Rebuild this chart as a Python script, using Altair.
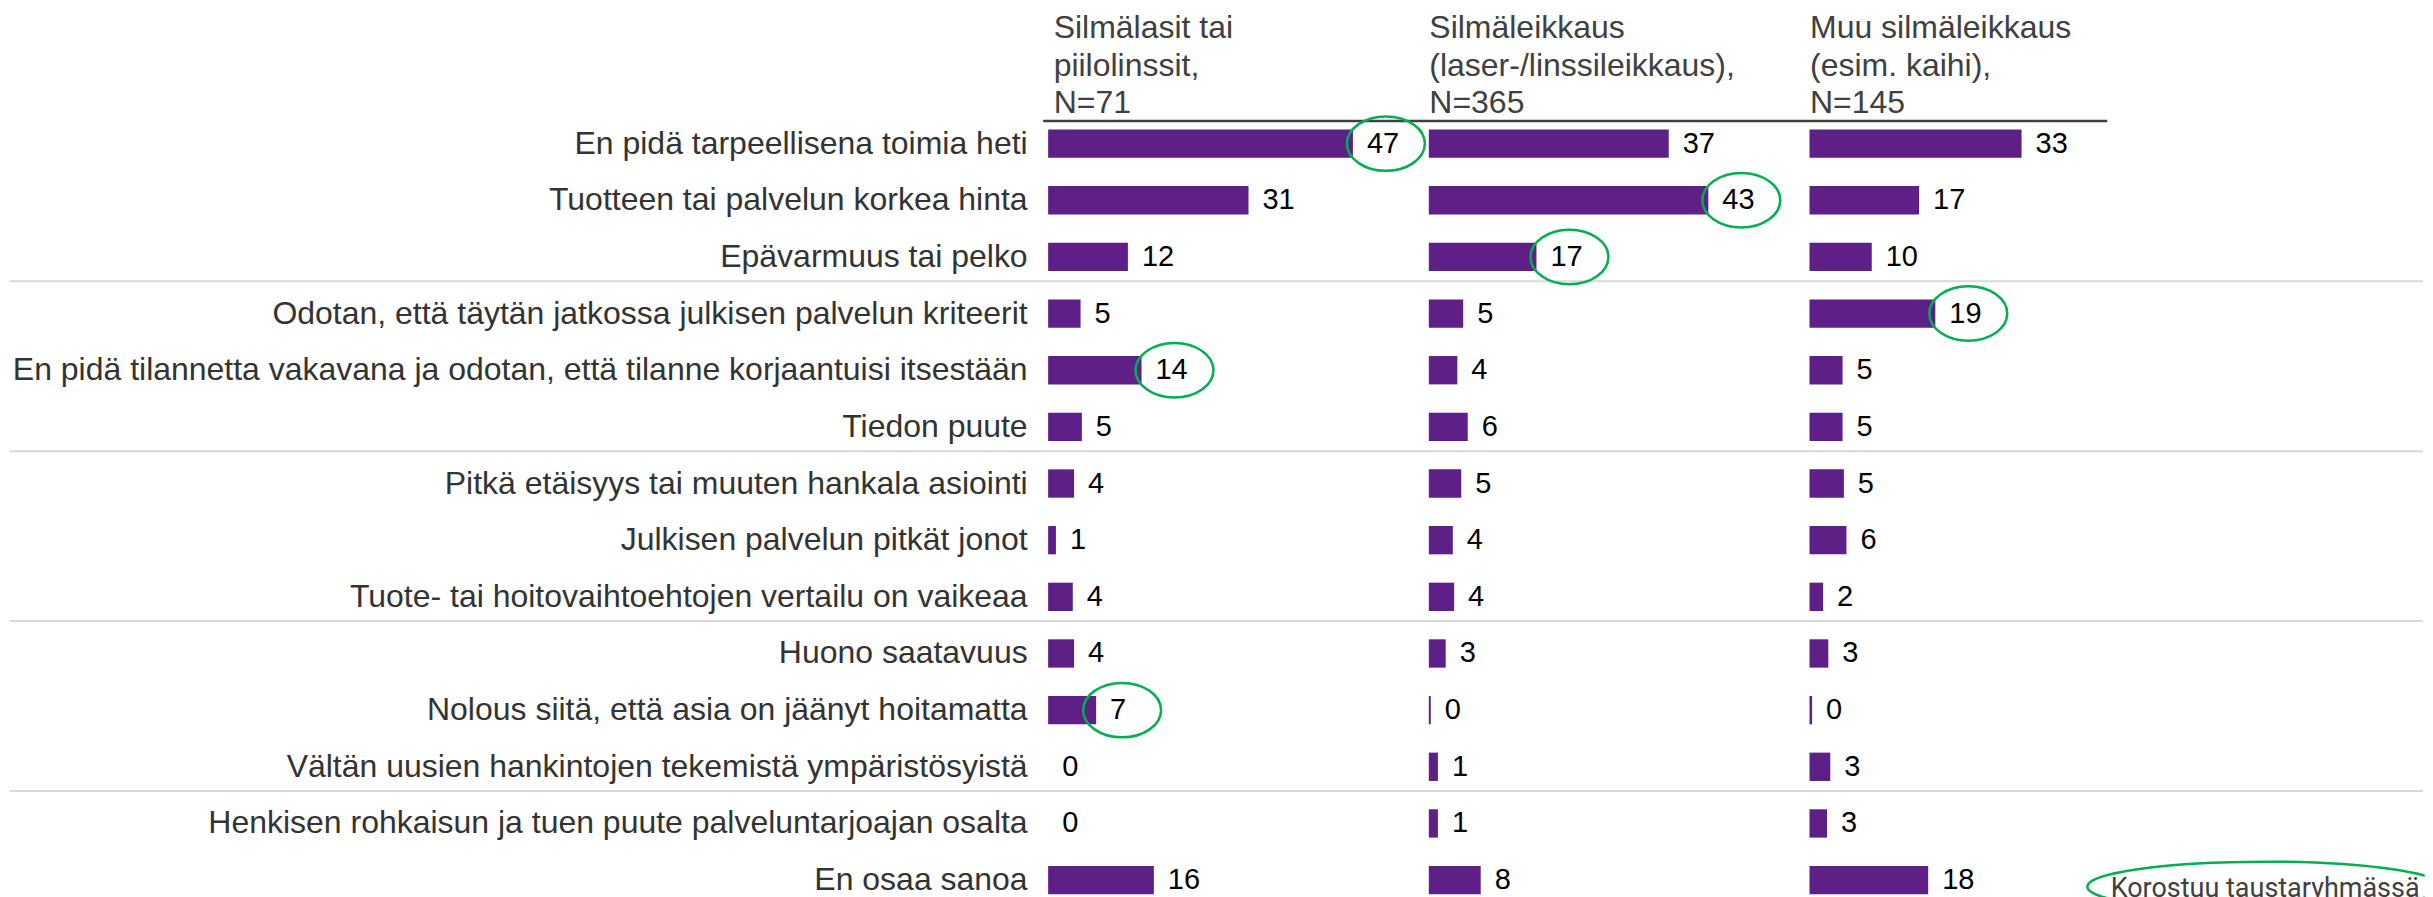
import altair as alt
import pandas as pd

# ---------------- data ----------------
reasons = [
    "En pidä tarpeellisena toimia heti",
    "Tuotteen tai palvelun korkea hinta",
    "Epävarmuus tai pelko",
    "Odotan, että täytän jatkossa julkisen palvelun kriteerit",
    "En pidä tilannetta vakavana ja odotan, että tilanne korjaantuisi itsestään",
    "Tiedon puute",
    "Pitkä etäisyys tai muuten hankala asiointi",
    "Julkisen palvelun pitkät jonot",
    "Tuote- tai hoitovaihtoehtojen vertailu on vaikeaa",
    "Huono saatavuus",
    "Nolous siitä, että asia on jäänyt hoitamatta",
    "Vältän uusien hankintojen tekemistä ympäristösyistä",
    "Henkisen rohkaisun ja tuen puute palveluntarjoajan osalta",
    "En osaa sanoa",
]

group_titles = [
    ["Silmälasit tai", "piilolinssit,", "N=71"],
    ["Silmäleikkaus", "(laser-/linssileikkaus),", "N=365"],
    ["Muu silmäleikkaus", "(esim. kaihi),", "N=145"],
]

values_g1 = [47.0, 30.9, 12.3, 5.0, 14.4, 5.2, 4.0, 1.2, 3.8, 4.0, 7.4, 0.0, 0.0, 16.3]
values_g2 = [37.0, 43.1, 16.6, 5.3, 4.4, 6.0, 5.0, 3.7, 3.9, 2.6, 0.3, 1.4, 1.4, 8.0]
values_g3 = [32.7, 16.9, 9.6, 19.4, 5.1, 5.1, 5.3, 5.7, 2.1, 2.9, 0.4, 3.2, 2.7, 18.3]

highlight_g1 = [1, 0, 0, 0, 1, 0, 0, 0, 0, 0, 1, 0, 0, 0]
highlight_g2 = [0, 1, 1, 0, 0, 0, 0, 0, 0, 0, 0, 0, 0, 0]
highlight_g3 = [0, 0, 0, 1, 0, 0, 0, 0, 0, 0, 0, 0, 0, 0]

separator_rows = [reasons[3], reasons[6], reasons[9], reasons[12]]
legend_text = ["Korostuu taustaryhmässä"]

values = [values_g1, values_g2, values_g3]
highlights = [highlight_g1, highlight_g2, highlight_g3]

# ---------------- style ----------------
FONT = "Liberation Sans"
PURPLE = "#5E1F87"
GREEN = "#00B050"
W = 381
PXU = 6.49
WIDTHS = [W, W, 2425 - 1047.3 - 2 * W]
STEP = 56.7
H = STEP * len(reasons)
LEFT = 1039.3

k = 0.5523


def ellipse_path(ry):
    a = k * ry
    return (f"M-1,0 C-1,{-a} {-k},{-ry} 0,{-ry} C{k},{-ry} 1,{-a} 1,0 "
            f"C1,{a} {k},{ry} 0,{ry} C{-k},{ry} -1,{a} -1,0 Z")


ELL = ellipse_path(54.5 / 78)
LEG_ELL = ellipse_path(50 / 356)


def panel(i):
    wi = WIDTHS[i]
    df = pd.DataFrame({"reason": reasons, "value": values[i], "hl": highlights[i]})
    base = alt.Chart(df)
    if i == 0:
        yaxis = alt.Axis(domain=False, ticks=False, labelPadding=21, labelFontSize=32,
                         labelFont=FONT, labelColor="#333333", labelLimit=1100, title=None,
                         grid=False, minExtent=LEFT, maxExtent=LEFT)
    else:
        yaxis = None
    yenc = alt.Y("reason:N", sort=reasons,
                 scale=alt.Scale(paddingInner=0.5, paddingOuter=0.25),
                 axis=yaxis, title=None)
    xaxis = alt.Axis(orient="top", domain=False, ticks=False, labels=False, grid=False,
                     titleX=(5 if i == 0 else 0), titleY=-77.5, titleAlign="left",
                     titleAnchor="start", titleBaseline="alphabetic", titleAngle=0,
                     titleFontSize=32, titleFont=FONT, titleFontWeight="normal",
                     titleColor="#404040", titleLineHeight=37.5)
    xscale = alt.Scale(domain=[0, wi / PXU], nice=False)
    xenc = alt.X("value:Q", scale=xscale, axis=xaxis, title=group_titles[i])
    cxenc = alt.X("cx:Q", scale=xscale, axis=xaxis, title=group_titles[i])

    bars = base.mark_bar(color=PURPLE).encode(x=xenc, y=yenc)
    labels = base.mark_text(align="left", baseline="middle", dx=14, fontSize=29, font=FONT,
                            color="#000000").encode(
        x=xenc, y=yenc, text=alt.Text("value:Q", format=".0f"))
    ell = base.transform_filter("datum.hl == 1").transform_calculate(
        cx=f"datum.value + (round(datum.value) >= 10 ? 33 : 26) / {PXU}"
    ).mark_point(shape=ELL, size=78 ** 2, filled=False, stroke=GREEN, strokeWidth=2.5,
                 opacity=1).encode(x=cxenc, y=yenc)

    layers = [bars, labels, ell]

    if i == 0:
        sep = alt.Chart(pd.DataFrame({"reason": separator_rows})).mark_rule(
            color="#D9D9D9", strokeWidth=2, yOffset=-32.4).encode(
            y=yenc, x=alt.value(-LEFT), x2=alt.value(1376))
        hdr = alt.Chart(pd.DataFrame({"k": [0]})).mark_rule(
            color="#404040", strokeWidth=2.5).encode(
            x=alt.value(-5), x2=alt.value(1060), y=alt.value(5.7))
        layers = [sep, hdr] + layers

    if i == 2:
        leg = pd.DataFrame({"legend": legend_text})
        leg_t = alt.Chart(leg).mark_text(align="center", baseline="middle", font="Roboto",
                                         fontSize=27, color="#404040", clip=True).encode(
            text="legend:N", x=alt.value(456), y=alt.value(774))
        leg_e = alt.Chart(leg).mark_point(shape=LEG_ELL, size=356 ** 2, filled=False,
                                          stroke=GREEN, strokeWidth=2.5, opacity=1,
                                          clip=True).encode(
            x=alt.value(456), y=alt.value(772))
        layers = layers + [leg_e, leg_t]

    return alt.layer(*layers).properties(width=wi, height=H)


chart = alt.hconcat(panel(0), panel(1), panel(2), spacing=0, bounds="flush").properties(
    padding={"top": 3, "left": 0, "right": 0, "bottom": 0}
).configure_view(stroke=None)

chart.save("out.html", embed_options={"renderer": "svg", "actions": False})
